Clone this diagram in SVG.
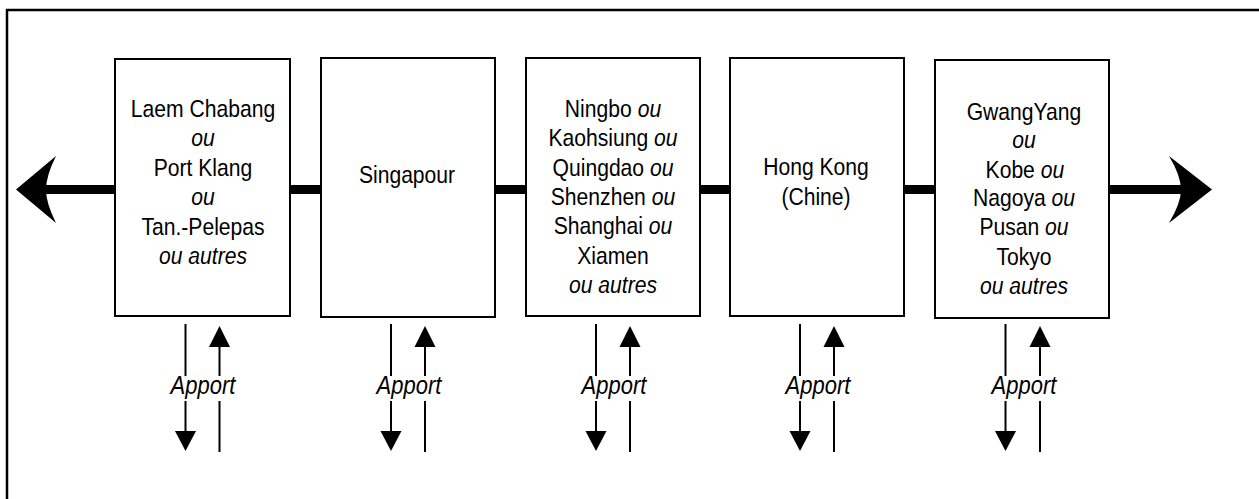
<svg xmlns="http://www.w3.org/2000/svg" width="1259" height="499" viewBox="0 0 1259 499">
<style>
.box{fill:#fff;stroke:#000;stroke-width:2}
.t{font-family:"Liberation Sans",Arial,sans-serif;font-size:24px;text-anchor:middle;fill:#000}
.i{font-style:italic}
.ap{font-family:"Liberation Sans",Arial,sans-serif;font-size:25px;font-style:italic;text-anchor:middle;fill:#000}
.thin{stroke:#000;stroke-width:2;fill:none}
.main{stroke:#000;stroke-width:9;fill:none}
</style>
<rect x="0" y="0" width="1259" height="499" fill="#fff"/>
<path d="M7,505 V10 H1265" fill="none" stroke="#000" stroke-width="2.5"/>
<g id="connectors">
  <line class="main" x1="46" y1="189.5" x2="1181" y2="189.5"/>
  <path d="M16,189.5 L56,156 Q46,176 46,189.5 Q46,203 56,223 Z" fill="#000"/>
  <path d="M1212,189.5 L1169,156 Q1181,176 1181,189.5 Q1181,203 1169,223 Z" fill="#000"/>
  <g id="apport1">
    <line class="thin" x1="185.5" y1="324" x2="185.5" y2="433"/>
    <polygon points="175,431 196,431 185.5,451" fill="#000"/>
    <line class="thin" x1="219.5" y1="452" x2="219.5" y2="345"/>
    <polygon points="219.5,326 209,347 230,347" fill="#000"/>
    <rect x="172" y="376" width="62" height="25" fill="#fff"/>
    <text class="ap" transform="translate(203,394) scale(0.88,1)">Apport</text>
  </g>
  <g id="apport2">
    <line class="thin" x1="391" y1="324" x2="391" y2="433"/>
    <polygon points="380.5,431 401.5,431 391,451" fill="#000"/>
    <line class="thin" x1="425" y1="452" x2="425" y2="345"/>
    <polygon points="425,326 414.5,347 435.5,347" fill="#000"/>
    <rect x="377" y="376" width="62" height="25" fill="#fff"/>
    <text class="ap" transform="translate(409,394) scale(0.88,1)">Apport</text>
  </g>
  <g id="apport3">
    <line class="thin" x1="596" y1="324" x2="596" y2="433"/>
    <polygon points="585.5,431 606.5,431 596,451" fill="#000"/>
    <line class="thin" x1="630" y1="452" x2="630" y2="345"/>
    <polygon points="630,326 619.5,347 640.5,347" fill="#000"/>
    <rect x="582" y="376" width="62" height="25" fill="#fff"/>
    <text class="ap" transform="translate(614,394) scale(0.88,1)">Apport</text>
  </g>
  <g id="apport4">
    <line class="thin" x1="800" y1="324" x2="800" y2="433"/>
    <polygon points="789.5,431 810.5,431 800,451" fill="#000"/>
    <line class="thin" x1="834" y1="452" x2="834" y2="345"/>
    <polygon points="834,326 823.5,347 844.5,347" fill="#000"/>
    <rect x="787" y="376" width="62" height="25" fill="#fff"/>
    <text class="ap" transform="translate(818,394) scale(0.88,1)">Apport</text>
  </g>
  <g id="apport5">
    <line class="thin" x1="1005.5" y1="324" x2="1005.5" y2="433"/>
    <polygon points="995,431 1016,431 1005.5,451" fill="#000"/>
    <line class="thin" x1="1040" y1="452" x2="1040" y2="345"/>
    <polygon points="1040,326 1029.5,347 1050.5,347" fill="#000"/>
    <rect x="993" y="376" width="62" height="25" fill="#fff"/>
    <text class="ap" transform="translate(1024,394) scale(0.88,1)">Apport</text>
  </g>
</g>
<g id="node1">
  <rect class="box" x="115" y="59" width="175" height="257"/>
  <g transform="translate(203,0) scale(0.88,1)">
    <text class="t" x="0" y="117">Laem Chabang</text>
    <text class="t i" x="0" y="146.5">ou</text>
    <text class="t" x="0" y="176">Port Klang</text>
    <text class="t i" x="0" y="205.5">ou</text>
    <text class="t" x="0" y="235">Tan.-Pelepas</text>
    <text class="t i" x="0" y="264.5">ou autres</text>
  </g>
</g>
<g id="node2">
  <rect class="box" x="321" y="58" width="174" height="259"/>
  <g transform="translate(407,0) scale(0.88,1)">
    <text class="t" x="0" y="183">Singapour</text>
  </g>
</g>
<g id="node3">
  <rect class="box" x="526" y="58" width="174" height="258"/>
  <g transform="translate(613,0) scale(0.88,1)">
    <text class="t" x="0" y="117">Ningbo <tspan class="i">ou</tspan></text>
    <text class="t" x="0" y="146.3">Kaohsiung <tspan class="i">ou</tspan></text>
    <text class="t" x="0" y="175.6">Quingdao <tspan class="i">ou</tspan></text>
    <text class="t" x="0" y="205">Shenzhen <tspan class="i">ou</tspan></text>
    <text class="t" x="0" y="234.3">Shanghai <tspan class="i">ou</tspan></text>
    <text class="t" x="0" y="264">Xiamen</text>
    <text class="t i" x="0" y="293">ou autres</text>
  </g>
</g>
<g id="node4">
  <rect class="box" x="730" y="58" width="174" height="258"/>
  <g transform="translate(816,0) scale(0.88,1)">
    <text class="t" x="0" y="175">Hong Kong</text>
    <text class="t" x="0" y="205">(Chine)</text>
  </g>
</g>
<g id="node5">
  <rect class="box" x="935" y="60" width="174" height="258"/>
  <g transform="translate(1024,0) scale(0.88,1)">
    <text class="t" x="0" y="120">GwangYang</text>
    <text class="t i" x="0" y="148.5">ou</text>
    <text class="t" x="1" y="178">Kobe <tspan class="i">ou</tspan></text>
    <text class="t" x="0" y="206.5">Nagoya <tspan class="i">ou</tspan></text>
    <text class="t" x="0" y="235.5">Pusan <tspan class="i">ou</tspan></text>
    <text class="t" x="0" y="265">Tokyo</text>
    <text class="t i" x="0" y="294.5">ou autres</text>
  </g>
</g>
</svg>
